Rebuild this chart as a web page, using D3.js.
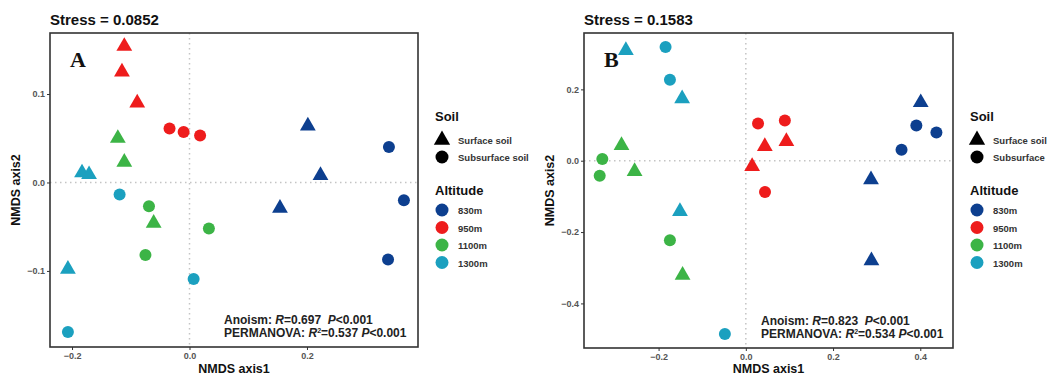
<!DOCTYPE html>
<html lang="en">
<head>
<meta charset="UTF-8" />
<title>NMDS plots</title>
<script src="https://d3js.org/d3.v7.min.js"></script>
<style>
  body { margin: 0; background: #fff; font-family: "Liberation Sans", Arial, sans-serif; }
  svg { display: block; }
  .tick text { font-size: 9px; fill: #555; font-weight: bold; }
  .tick line { stroke: #333; }
  .domain { display: none; }
  .ann text { white-space: pre; }
</style>
</head>
<body>
<svg width="1050" height="375"></svg>
<script>
  // altitude groups & soil layer
  const altitudes = ["830m", "950m", "1100m", "1300m"];
  const altColors = ["#0d3f8f", "#ee1c1c", "#3cb446", "#1ba0bf"];
  const soils = ["Surface soil", "Subsurface soil"];

  // panel A points: [x, y, altitude, soil]  (T = surface/triangle, C = subsurface/circle)
  const pointsA = [
    [-0.111, 0.154, "950m", "T"], [-0.115, 0.125, "950m", "T"], [-0.089, 0.090, "950m", "T"],
    [-0.034, 0.061, "950m", "C"], [-0.010, 0.057, "950m", "C"], [0.018, 0.053, "950m", "C"],
    [-0.122, 0.050, "1100m", "T"], [-0.111, 0.023, "1100m", "T"], [-0.061, -0.046, "1100m", "T"],
    [-0.069, -0.027, "1100m", "C"], [0.033, -0.052, "1100m", "C"], [-0.075, -0.082, "1100m", "C"],
    [-0.183, 0.011, "1300m", "T"], [-0.171, 0.009, "1300m", "T"], [-0.207, -0.098, "1300m", "T"],
    [-0.119, -0.0135, "1300m", "C"], [0.007, -0.109, "1300m", "C"], [-0.207, -0.169, "1300m", "C"],
    [0.2015, 0.064, "830m", "T"], [0.223, 0.008, "830m", "T"], [0.154, -0.029, "830m", "T"],
    [0.3395, 0.040, "830m", "C"], [0.365, -0.020, "830m", "C"], [0.338, -0.087, "830m", "C"]
  ];

  // panel B points
  const pointsB = [
    [-0.275, 0.309, "1300m", "T"], [-0.146, 0.174, "1300m", "T"], [-0.151, -0.142, "1300m", "T"],
    [-0.184, 0.319, "1300m", "C"], [-0.174, 0.227, "1300m", "C"], [-0.048, -0.486, "1300m", "C"],
    [-0.285, 0.043, "1100m", "T"], [-0.255, -0.030, "1100m", "T"], [-0.145, -0.321, "1100m", "T"],
    [-0.329, 0.005, "1100m", "C"], [-0.335, -0.042, "1100m", "C"], [-0.174, -0.223, "1100m", "C"],
    [0.0435, 0.040, "950m", "T"], [0.093, 0.054, "950m", "T"], [0.0145, -0.016, "950m", "T"],
    [0.028, 0.104, "950m", "C"], [0.0895, 0.113, "950m", "C"], [0.044, -0.088, "950m", "C"],
    [0.401, 0.163, "830m", "T"], [0.287, -0.053, "830m", "T"], [0.288, -0.280, "830m", "T"],
    [0.391, 0.099, "830m", "C"], [0.437, 0.079, "830m", "C"], [0.357, 0.031, "830m", "C"]
  ];

  const ticksA_x = [-0.2, 0.0, 0.2];
  const ticksA_y = [-0.1, 0.0, 0.1];
  const ticksB_x = [-0.2, 0.0, 0.2, 0.4];
  const ticksB_y = [-0.4, -0.2, 0.0, 0.2];

  const svg = d3.select("svg");
  const color = d3.scaleOrdinal().domain(altitudes).range(altColors);
  const triangle = d3.symbol().type(d3.symbolTriangle).size(108);

  function panel(cfg) {
    const { left, right, top, bottom, xDom, yDom, pts, xt, yt } = cfg;
    const x = d3.scaleLinear().domain(xDom).range([left, right]);
    const y = d3.scaleLinear().domain(yDom).range([bottom, top]);
    const g = svg.append("g");

    g.append("text").attr("x", left).attr("y", 25)
      .attr("font-size", 15).attr("font-weight", "bold").attr("fill", "#111")
      .text(cfg.stress);

    // zero reference lines
    g.append("line").attr("x1", x(0)).attr("x2", x(0)).attr("y1", top).attr("y2", bottom)
      .attr("stroke", "#c4c4c4").attr("stroke-dasharray", "1.5,3.5").attr("stroke-width", 1.5);
    g.append("line").attr("x1", left).attr("x2", right).attr("y1", y(0)).attr("y2", y(0))
      .attr("stroke", "#c4c4c4").attr("stroke-dasharray", "1.5,3.5").attr("stroke-width", 1.5);

    g.append("g").attr("transform", `translate(0,${bottom})`)
      .call(d3.axisBottom(x).tickValues(xt).tickSize(3).tickPadding(3).tickFormat(d3.format(".1f")));
    g.append("g").attr("transform", `translate(${left},0)`)
      .call(d3.axisLeft(y).tickValues(yt).tickSize(3).tickPadding(2).tickFormat(d3.format(".1f")));

    const marks = g.append("g");
    marks.selectAll("circle").data(pts.filter(d => d[3] === "C")).join("circle")
      .attr("cx", d => x(d[0])).attr("cy", d => y(d[1])).attr("r", 6)
      .attr("fill", d => color(d[2]));
    marks.selectAll("path").data(pts.filter(d => d[3] === "T")).join("path")
      .attr("d", triangle)
      .attr("transform", d => `translate(${x(d[0])},${y(d[1])})`)
      .attr("fill", d => color(d[2]));

    g.append("rect").attr("x", left).attr("y", top).attr("width", right - left).attr("height", bottom - top)
      .attr("fill", "none").attr("stroke", "#333").attr("stroke-width", 1.6);

    g.append("text").attr("x", left + 20).attr("y", top + 34)
      .attr("font-family", "Liberation Serif, Times New Roman, serif")
      .attr("font-size", 22).attr("font-weight", "bold").attr("fill", "#111").text(cfg.label);

    // stats annotation
    const ann = g.append("g").attr("class", "ann").attr("font-size", 12).attr("font-weight", "bold").attr("fill", "#222");
    const t1 = ann.append("text").attr("x", cfg.annX).attr("y", bottom - 23);
    t1.append("tspan").text("Anoism: ");
    t1.append("tspan").attr("font-style", "italic").text("R");
    t1.append("tspan").text("=" + cfg.R + "\u00a0\u00a0");
    t1.append("tspan").attr("font-style", "italic").text("P");
    t1.append("tspan").text("<0.001");
    const t2 = ann.append("text").attr("x", cfg.annX).attr("y", bottom - 10);
    t2.append("tspan").text("PERMANOVA: ");
    t2.append("tspan").attr("font-style", "italic").text("R");
    t2.append("tspan").attr("font-size", 7).attr("dy", -4).text("2");
    t2.append("tspan").attr("dy", 4).text("=" + cfg.R2 + " ");
    t2.append("tspan").attr("font-style", "italic").text("P");
    t2.append("tspan").text("<0.001");

    // axis titles
    g.append("text").attr("x", (left + right) / 2).attr("y", 373).attr("text-anchor", "middle")
      .attr("font-size", 12.5).attr("font-weight", "bold").attr("fill", "#111").text("NMDS axis1");
    g.append("text").attr("transform", `translate(${left - 30},${(top + bottom) / 2}) rotate(-90)`)
      .attr("text-anchor", "middle").attr("font-size", 12.5).attr("font-weight", "bold").attr("fill", "#111")
      .text("NMDS axis2");

    // legend
    const lg = g.append("g").attr("transform", `translate(${cfg.legX},0)`).attr("fill", "#111");
    lg.append("text").attr("x", 0).attr("y", 121).attr("font-size", 13).attr("font-weight", "bold").text("Soil");
    lg.append("path").attr("d", d3.symbol().type(d3.symbolTriangle).size(115))
      .attr("transform", "translate(7,140)").attr("fill", "#000");
    lg.append("circle").attr("cx", 7).attr("cy", 157).attr("r", 6.5).attr("fill", "#000");
    lg.selectAll(".soilt").data(cfg.soilLabels).join("text").attr("class", "soilt")
      .attr("x", 23).attr("y", (d, i) => 144 + i * 17).attr("font-size", 9.5).attr("font-weight", "bold")
      .attr("fill", "#333").text(d => d);
    lg.append("text").attr("x", 0).attr("y", 195).attr("font-size", 13).attr("font-weight", "bold").text("Altitude");
    lg.selectAll(".altc").data(altitudes).join("circle").attr("class", "altc")
      .attr("cx", 7).attr("cy", (d, i) => 210 + i * 17.5).attr("r", 6.5).attr("fill", d => color(d));
    lg.selectAll(".altt").data(altitudes).join("text").attr("class", "altt")
      .attr("x", 23).attr("y", (d, i) => 214 + i * 17.5).attr("font-size", 9.5).attr("font-weight", "bold")
      .attr("fill", "#333").text(d => d);
  }

  panel({
    left: 50, right: 418, top: 33, bottom: 347,
    xDom: [-0.2375, 0.389], yDom: [-0.186, 0.169],
    pts: pointsA, xt: ticksA_x, yt: ticksA_y,
    stress: "Stress = 0.0852", label: "A", R: "0.697", R2: "0.537", annX: 224,
    legX: 435, soilLabels: soils
  });
  panel({
    left: 584, right: 953, top: 33, bottom: 348,
    xDom: [-0.371, 0.475], yDom: [-0.525, 0.358],
    pts: pointsB, xt: ticksB_x, yt: ticksB_y,
    stress: "Stress = 0.1583", label: "B", R: "0.823", R2: "0.534", annX: 761,
    legX: 970, soilLabels: ["Surface soil", "Subsurface"]
  });
</script>
</body>
</html>
